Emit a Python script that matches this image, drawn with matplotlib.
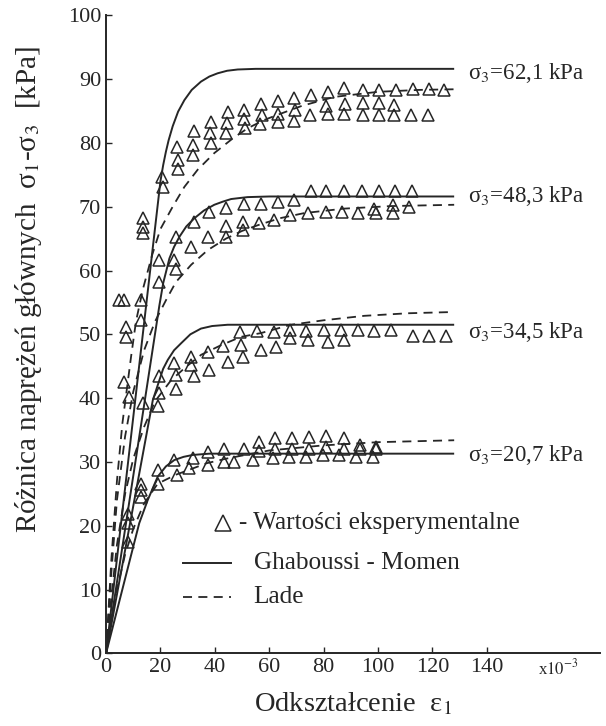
import matplotlib
matplotlib.use("Agg")
import matplotlib.pyplot as plt

plt.rcParams['font.family'] = ['Liberation Serif', 'DejaVu Serif']
plt.rcParams['mathtext.fontset'] = 'stix'

INK = '#262626'

# strain eps1 in units of 1e-3, deviator stress in kPa
pressures = ['62,1', '48,3', '34,5', '20,7']
label_y = [91.0, 71.6, 50.4, 31.1]

# Ghaboussi - Momen (solid)
gm_x_621 = [0, 20, 21, 22, 23, 24.5, 26.5, 28.8, 31.5, 34.9, 38, 41, 44.5, 48.4, 55, 128]
gm_y_621 = [0, 74, 76.5, 78.6, 80.4, 82.6, 84.9, 86.7, 88.3, 89.6, 90.4, 90.9, 91.3, 91.5, 91.6, 91.6]
gm_x_483 = [0, 19.6, 21, 23.3, 25, 27, 29.5, 32.5, 36, 39.8, 43, 46, 52, 60, 128]
gm_y_483 = [0, 54.5, 58, 61.9, 63.7, 65.3, 66.9, 68.2, 69.4, 70.3, 70.8, 71.2, 71.5, 71.6, 71.6]
gm_x_345 = [0, 17.2, 19.6, 21, 22.7, 25, 27.6, 31, 34.9, 39, 44.7, 52, 128]
gm_y_345 = [0, 39.7, 42.8, 44.6, 46, 47.5, 48.6, 50, 50.9, 51.3, 51.5, 51.5, 51.5]
gm_x_207 = [0, 12.2, 15.3, 19, 22, 25.1, 28.5, 31.9, 38, 45, 128]
gm_y_207 = [0, 20.4, 24, 27.7, 29.3, 30.3, 30.8, 31.1, 31.3, 31.3, 31.3]

# Lade (dashed)
lade_x_621 = [0, 2, 4, 6, 9.2, 11, 13.5, 17, 20, 24.5, 28.8, 33.7, 39.8, 46.6, 52.1, 58.2, 63.1, 72, 83.9, 100, 115, 128]
lade_y_621 = [0, 15, 27, 36, 46.5, 52, 57, 62.5, 66.5, 70, 73.1, 75.8, 78.4, 80.7, 82.3, 83.6, 84.4, 85.8, 87.2, 88, 88.3, 88.4]
lade_x_483 = [0, 2, 4, 7, 10, 14, 18, 22.1, 25.7, 31.3, 37.4, 44.1, 50, 55.8, 64, 72.9, 87.6, 105, 128]
lade_y_483 = [0, 13, 24, 34, 41, 47.5, 52, 55.4, 58.2, 60.9, 63.2, 65, 66.2, 67.1, 68.2, 69, 69.7, 70.1, 70.3]
lade_x_345 = [0, 2, 4, 7, 10, 14, 18, 23.9, 29.4, 35, 42.3, 49.6, 57, 68, 80, 95, 111, 128]
lade_y_345 = [0, 9, 17, 25, 30.5, 35.5, 39.5, 42.8, 44.9, 46.8, 48.3, 49.6, 50.2, 51.5, 52.2, 52.9, 53.3, 53.5]
lade_x_207 = [0, 2, 4, 7, 10, 14, 19, 25.7, 32, 37, 44, 50, 60, 70, 80, 100, 128]
lade_y_207 = [0, 5.5, 10, 15.5, 19.5, 23.5, 26.6, 28, 29, 29.8, 30.5, 31, 31.8, 32.2, 32.6, 33.1, 33.4]

# experimental points (triangles)
exp_x_621 = [13.5, 13.5, 13.5, 20.6, 20.8, 26.1, 26.4, 26.4, 32.5, 32.1, 32.1, 38.6, 38.2, 38.6,
             44.7, 44.5, 44.1, 50.8, 50.8, 51.2, 57, 57.2, 56.7, 63.1, 63.1, 63.3, 69.2, 69.5, 69.2,
             75.4, 75.1, 81.5, 81, 81.5, 87.6, 88, 87.6, 94.4, 94.4, 94.4, 100.5, 100.5, 100.5,
             106.6, 106, 106, 112.8, 112.1, 118.9, 118.3, 124.4]
exp_y_621 = [68.2, 66.8, 65.8, 74.7, 73.1, 79.4, 77.3, 75.9, 81.8, 79.7, 78.1, 83.3, 81.5, 80.0,
             84.9, 83.1, 81.5, 85.2, 83.7, 82.4, 86.1, 84.4, 83.0, 86.5, 84.6, 83.2, 87.0, 85.2, 83.5,
             87.5, 84.4, 88.0, 85.8, 84.6, 88.6, 86.1, 84.6, 88.3, 86.2, 84.4, 88.3, 86.2, 84.4,
             88.3, 86.0, 84.4, 88.4, 84.4, 88.4, 84.3, 88.3]
exp_x_483 = [4.8, 6.7, 12.9, 12.9, 7.4, 7.4, 6.7, 19.6, 19.6, 25.1, 25.7, 25.7, 31.3, 32.5, 37.4, 38,
             44.1, 44.1, 44.1, 50.3, 50.3, 50.8, 56.4, 57, 61.9, 63.1, 67.8, 69, 74.4, 75.4, 80.9, 80.9,
             86.6, 87.6, 92.5, 94, 98.6, 99.3, 100.5, 105.4, 105.4, 106.3, 111.5, 112.4]
exp_y_483 = [55.4, 55.4, 55.4, 52.2, 51.2, 49.6, 42.6, 61.6, 58.2, 61.6, 60.3, 65.3, 63.7, 67.6, 65.3, 69.2,
             69.8, 66.9, 65.3, 67.6, 66.3, 70.5, 67.4, 70.5, 67.9, 70.8, 68.7, 71.1, 69.0, 72.4, 69.2, 72.4,
             69.2, 72.4, 69.0, 72.4, 69.7, 69.0, 72.4, 70.3, 69.0, 72.4, 70.0, 72.4]
exp_x_345 = [8.6, 13.5, 19, 19.6, 19.6, 25.1, 25.7, 25.7, 31.3, 31.3, 32.5, 37.4, 38, 42.9, 44.7,
             49.4, 49.6, 50.3, 55.5, 57, 61.9, 62.5, 67.8, 67.8, 73.5, 74.1, 80.3, 81.5, 86.4, 87.6,
             92.5, 98.4, 104.8, 112.8, 118.9, 125]
exp_y_345 = [40.2, 39.2, 38.7, 40.8, 43.4, 45.5, 43.6, 41.4, 46.5, 45.2, 43.4, 47.3, 44.4, 48.1, 45.7,
             50.3, 48.3, 46.5, 50.5, 47.6, 50.4, 48.0, 50.6, 49.4, 50.5, 49.1, 50.6, 48.8, 50.6, 49.1,
             50.6, 50.5, 50.6, 49.7, 49.7, 49.7]
exp_x_207 = [8, 8, 8, 12.9, 12.9, 12.9, 19, 19, 25.1, 26.1, 30.6, 31.9,
             37.4, 43.5, 50.8, 56.4, 62.1, 68.4, 74.7, 80.9, 87.6, 93.5, 99.3,
             37.4, 43.5, 47.2, 53.9, 61.3, 67.4, 73.5, 79.6, 85.7, 91.8, 98,
             56.4, 62.1, 68.4, 74.7, 80.9, 87.6, 93.5, 99.3]
exp_y_207 = [21.9, 20.4, 17.5, 26.6, 25.6, 24.5, 28.7, 26.6, 30.3, 27.9, 29.0, 30.6,
             31.5, 32.0, 32.0, 31.7, 32.1, 32.1, 32.1, 32.4, 32.1, 32.1, 32.1,
             29.5, 30.0, 30.0, 30.3, 30.6, 30.8, 30.8, 31.1, 31.1, 30.8, 30.8,
             33.2, 33.7, 33.7, 33.9, 34.1, 33.7, 32.6, 32.4]

gm_curves = [(gm_x_621, gm_y_621), (gm_x_483, gm_y_483), (gm_x_345, gm_y_345), (gm_x_207, gm_y_207)]
lade_curves = [(lade_x_621, lade_y_621), (lade_x_483, lade_y_483), (lade_x_345, lade_y_345), (lade_x_207, lade_y_207)]
exp_points = [(exp_x_621, exp_y_621), (exp_x_483, exp_y_483), (exp_x_345, exp_y_345), (exp_x_207, exp_y_207)]

fig = plt.figure(figsize=(6.06, 7.26), dpi=100)
ax = fig.add_axes([0.175, 0.1, 0.815, 0.879])

for (x, y) in gm_curves:
    ax.plot(x, y, color=INK, lw=1.4, solid_capstyle='butt')
for (x, y) in lade_curves:
    ax.plot(x, y, color=INK, lw=1.3, dashes=(5, 3.5))
for (x, y) in exp_points:
    ax.plot(x, y, ls='none', marker='^', ms=8.5, mfc='none', mec=INK, mew=1.1)

for p, ly in zip(pressures, label_y):
    ax.text(133, ly, 'σ$_3$=' + p + ' kPa', fontsize=16.5, va='center', ha='left', color=INK)

ax.set_xlim(0, 181.6)
ax.set_ylim(0, 100)
ax.set_xticks(range(0, 141, 20))
ax.set_yticks(range(0, 101, 10))
ax.tick_params(direction='in', length=4, width=1, labelsize=16, colors=INK)
for s in ['top', 'right']:
    ax.spines[s].set_visible(False)
for s in ['left', 'bottom']:
    ax.spines[s].set_linewidth(1.4)
    ax.spines[s].set_color(INK)

ax.text(159, -2.4, r'x$10^{-3}$', fontsize=12, va='center', ha='left', color=INK)

ax.set_xlabel('Odkształcenie  ε$_1$', fontsize=20.5, color=INK)
ax.xaxis.set_label_coords(0.5, -0.058)
ax.set_ylabel('Różnica naprężeń głównych  σ$_1$-σ$_3$  [kPa]', fontsize=21, color=INK)
ax.yaxis.set_label_coords(-0.125, 0.57)

# hand-made legend
ax.plot([0.236], [0.204], transform=ax.transAxes, ls='none', marker='^', ms=11.5,
        mfc='none', mec=INK, mew=1.1, clip_on=False)
ax.text(0.27, 0.204, '- Wartości eksperymentalne', transform=ax.transAxes,
        fontsize=18.2, va='center', color=INK)
ax.plot([0.156, 0.253], [0.141, 0.141], transform=ax.transAxes, color=INK, lw=1.4, clip_on=False)
ax.text(0.299, 0.141, 'Ghaboussi - Momen', transform=ax.transAxes, fontsize=18.2, va='center', color=INK)
ax.plot([0.156, 0.253], [0.088, 0.088], transform=ax.transAxes, color=INK, lw=1.3,
        dashes=(5, 3.5), clip_on=False)
ax.text(0.299, 0.088, 'Lade', transform=ax.transAxes, fontsize=18.2, va='center', color=INK)

fig.savefig('out.png', dpi=100)
